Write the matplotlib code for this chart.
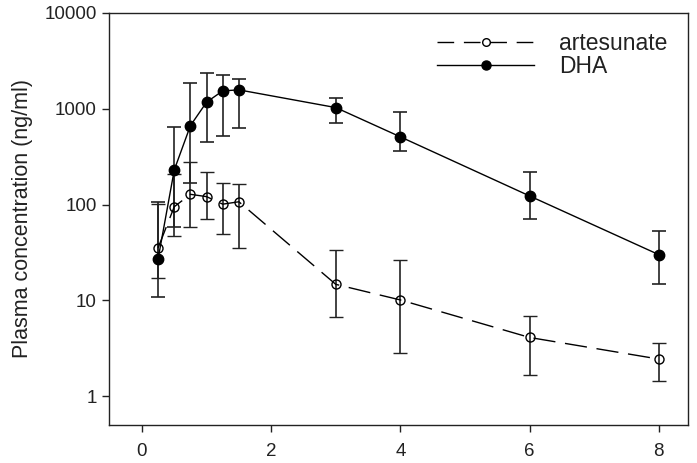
import numpy as np
from matplotlib import pyplot as plt
from matplotlib.lines import Line2D

plt.rcParams['font.family'] = ['Liberation Sans', 'DejaVu Sans']

# sampling times (h)
time_h = [0.25, 0.5, 0.75, 1.0, 1.25, 1.5, 3, 4, 6, 8]

# artesunate concentration and error bar ends (ng/ml)
art_mean = [35.4, 95, 128, 121, 101, 107, 14.7, 10.1, 4.1, 2.44]
art_low = [17.2, 47, 58, 71, 49, 35, 6.7, 2.8, 1.66, 1.43]
art_high = [100.7, 210, 277, 221, 167, 165, 33.5, 26.6, 6.9, 3.6]

# DHA concentration and error bar ends (ng/ml)
dha_mean = [27.2, 230, 667, 1172, 1538, 1575, 1029, 509, 123, 30]
dha_low = [10.9, 58, 167, 451, 521, 637, 708, 361, 71, 14.7]
dha_high = [105.7, 652, 1846, 2354, 2244, 2037, 1291, 921, 218, 53]

fig = plt.figure(figsize=(6.97, 4.63), dpi=100)
ax = fig.add_axes([0.1564, 0.082, 0.987 - 0.1564, 0.972 - 0.082])

art_err = [np.array(art_mean) - np.array(art_low), np.array(art_high) - np.array(art_mean)]
dha_err = [np.array(dha_mean) - np.array(dha_low), np.array(dha_high) - np.array(dha_mean)]

ax.errorbar(time_h, art_mean, yerr=art_err, color='black', lw=1.0, dashes=(16, 7),
            marker='o', markersize=6.5, markerfacecolor='none', markeredgecolor='black',
            markeredgewidth=1.0, ecolor='#222222', elinewidth=1.2, capsize=5, capthick=1.2)
ax.errorbar(time_h, dha_mean, yerr=dha_err, color='black', lw=1.0, ls='-',
            marker='o', markersize=7.5, markerfacecolor='black', markeredgecolor='black',
            ecolor='#222222', elinewidth=1.2, capsize=5, capthick=1.2)

ax.set_yscale('log')
ax.set_ylim(0.5, 10000)
ax.set_xlim(-0.51, 8.45)
ax.set_yticks([1, 10, 100, 1000, 10000])
ax.set_yticklabels(['1', '10', '100', '1000', '10000'])
ax.yaxis.set_minor_locator(plt.NullLocator())
ax.set_xticks([0, 2, 4, 6, 8])

ax.tick_params(axis='both', direction='out', length=5, width=1.0, labelsize=13.5, colors='#222222')
ax.tick_params(axis='x', pad=8)
ax.tick_params(axis='y', pad=4)
for s in ax.spines.values():
    s.set_linewidth(1.0)
    s.set_color('#222222')

ax.set_ylabel('Plasma concentration (ng/ml)', fontsize=15.5, color='#222222', labelpad=8)

# legend handles without error bars
h_art = Line2D([], [], color='black', lw=1.0, dashes=(12, 7), marker='o', markersize=5.5,
               markerfacecolor='none', markeredgecolor='black')
h_dha = Line2D([], [], color='black', lw=1.0, ls='-', marker='o', markersize=6.5,
               markerfacecolor='black')
leg = ax.legend([h_art, h_dha], ['artesunate', 'DHA'], loc='upper right', frameon=False,
                fontsize=16.5, handlelength=4.2, handletextpad=1.1, labelspacing=0.0,
                bbox_to_anchor=(1.0, 1.005))
for t in leg.get_texts():
    t.set_color('#222222')

plt.savefig('out.png', dpi=100)
